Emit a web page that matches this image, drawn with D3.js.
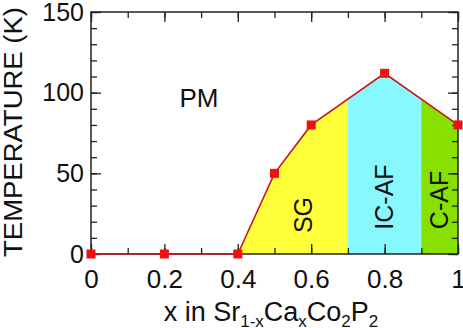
<!DOCTYPE html>
<html>
<head>
<meta charset="utf-8">
<script src="https://cdn.jsdelivr.net/npm/d3@7"></script>
<style>
  html, body { margin: 0; padding: 0; background: #fff; }
  svg { display: block; font-family: "Liberation Sans", Arial, Helvetica, sans-serif; }
</style>
</head>
<body>
<svg id="chart" width="463" height="328"></svg>
<script>
// phase boundary Tc vs Ca content x
const xValues = [0, 0.2, 0.4, 0.5, 0.6, 0.8, 1.0];
const tValues = [0, 0, 0, 50, 80, 112, 80];

// ordered regions under the curve
const regionNames = ["SG", "IC-AF", "C-AF"];
const regionStart = [0.4, 0.7, 0.9];
const regionEnd = [0.7, 0.9, 1.0];
const regionColors = ["#ffff3a", "#88f8ff", "#88e000"];

const xTicks = [0, 0.2, 0.4, 0.6, 0.8, 1];
const xTickLabels = ["0", "0.2", "0.4", "0.6", "0.8", "1"];
const yTicks = [0, 50, 100, 150];

const svg = d3.select("#chart");
const margin = { left: 91, right: 5, top: 12, bottom: 74 };
const W = 463, H = 328;

const x = d3.scaleLinear().domain([0, 1]).range([margin.left, W - margin.right]);
const y = d3.scaleLinear().domain([0, 150]).range([H - margin.bottom, margin.top]);

const data = xValues.map((v, i) => ({ x: v, t: tValues[i] }));

const defs = svg.append("defs");
regionNames.forEach((name, i) => {
    defs.append("clipPath").attr("id", "clip" + i)
        .append("rect")
        .attr("x", x(regionStart[i]))
        .attr("y", margin.top)
        .attr("width", x(regionEnd[i]) - x(regionStart[i]))
        .attr("height", y(0) - margin.top);
});

const area = d3.area().x(d => x(d.x)).y0(y(0)).y1(d => y(d.t));
regionNames.forEach((name, i) => {
    svg.append("path")
        .datum(data)
        .attr("clip-path", `url(#clip${i})`)
        .attr("fill", regionColors[i])
        .attr("d", area);
});

// frame with inward ticks on all four sides
const axisColor = "#222";
const tickMajor = 10, tickMinor = 6;

svg.append("g").attr("transform", `translate(0,${y(0)})`)
    .call(d3.axisBottom(x).tickValues(d3.range(0, 1.01, 0.1)).tickSize(-tickMinor).tickFormat(""));
const xAxis = svg.append("g").attr("transform", `translate(0,${y(0)})`)
    .call(d3.axisBottom(x).tickValues(xTicks).tickSize(-tickMajor).tickPadding(16)
        .tickFormat((d, i) => xTickLabels[i]));
svg.append("g").attr("transform", `translate(0,${margin.top})`)
    .call(d3.axisTop(x).tickValues(d3.range(0, 1.01, 0.1)).tickSize(-tickMinor).tickFormat(""));
svg.append("g").attr("transform", `translate(0,${margin.top})`)
    .call(d3.axisTop(x).tickValues(xTicks).tickSize(-tickMajor).tickFormat(""));
svg.append("g").attr("transform", `translate(${margin.left},0)`)
    .call(d3.axisLeft(y).tickValues(d3.range(0, 151, 10)).tickSize(-tickMinor).tickFormat(""));
svg.append("g").attr("transform", `translate(${margin.left},0)`)
    .call(d3.axisLeft(y).tickValues(yTicks).tickSize(-tickMajor).tickPadding(7));
svg.append("g").attr("transform", `translate(${W - margin.right},0)`)
    .call(d3.axisRight(y).tickValues(d3.range(0, 151, 10)).tickSize(-tickMinor).tickFormat(""));
svg.append("g").attr("transform", `translate(${W - margin.right},0)`)
    .call(d3.axisRight(y).tickValues(yTicks).tickSize(-tickMajor).tickFormat(""));

svg.selectAll(".domain").remove();
svg.selectAll(".tick line").attr("stroke", axisColor).attr("stroke-width", 1.3);
svg.selectAll(".tick text").attr("fill", "#111").attr("font-size", 25)
    .attr("font-family", "'Liberation Sans', Arial, sans-serif");
xAxis.selectAll(".tick text").attr("font-size", 26).attr("dy", "0.68em");

svg.append("rect")
    .attr("x", x(0)).attr("y", y(150))
    .attr("width", x(1) - x(0)).attr("height", y(0) - y(150))
    .attr("fill", "none").attr("stroke", axisColor).attr("stroke-width", 1.5);

// transition line + markers
svg.append("path")
    .datum(data)
    .attr("fill", "none")
    .attr("stroke", "#c81818")
    .attr("stroke-width", 1.6)
    .attr("d", d3.line().x(d => x(d.x)).y(d => y(d.t)));

svg.selectAll("rect.pt")
    .data(data)
    .enter().append("rect")
    .attr("class", "pt")
    .attr("x", d => x(d.x) - 4.5)
    .attr("y", d => y(d.t) - 4.5)
    .attr("width", 9).attr("height", 9)
    .attr("fill", "#f01010");

// phase labels
svg.append("text")
    .attr("x", 199).attr("y", 107)
    .attr("text-anchor", "middle")
    .attr("font-size", 26).attr("fill", "#111")
    .text("PM");

const labelX = [312, 393, 448];
const labelY = [215, 197, 200];
regionNames.forEach((name, i) => {
    svg.append("text")
        .attr("transform", `translate(${labelX[i]},${labelY[i]}) rotate(-90)`)
        .attr("text-anchor", "middle")
        .attr("font-size", 25).attr("fill", "#111")
        .text(name);
});

// axis titles
svg.append("text")
    .attr("transform", `translate(22,132) rotate(-90)`)
    .attr("text-anchor", "middle")
    .attr("font-size", 25).attr("fill", "#111")
    .attr("textLength", 250).attr("lengthAdjust", "spacingAndGlyphs")
    .text("TEMPERATURE (K)");

const xt = svg.append("text")
    .attr("x", 271).attr("y", 321)
    .attr("text-anchor", "middle")
    .attr("font-size", 27).attr("fill", "#111");
xt.append("tspan").text("x in Sr");
xt.append("tspan").attr("font-size", 17).attr("dy", 6).text("1-x");
xt.append("tspan").attr("dy", -6).text("Ca");
xt.append("tspan").attr("font-size", 17).attr("dy", 6).text("x");
xt.append("tspan").attr("dy", -6).text("Co");
xt.append("tspan").attr("font-size", 17).attr("dy", 6).text("2");
xt.append("tspan").attr("dy", -6).text("P");
xt.append("tspan").attr("font-size", 17).attr("dy", 6).text("2");
</script>
</body>
</html>
